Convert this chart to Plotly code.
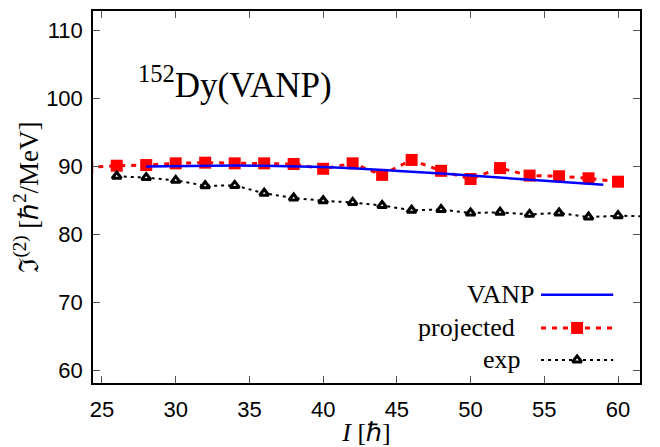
import plotly.graph_objects as go

# Spin values and moments of inertia
spin_proj = [24, 26, 28, 30, 32, 34, 36, 38, 40, 42, 44, 46, 48, 50, 52, 54, 56, 58, 60]
j2_proj = [89.9, 90.15, 90.25, 90.5, 90.6, 90.5, 90.5, 90.4, 89.7, 90.5, 88.8, 91.0,
           89.4, 88.2, 89.8, 88.7, 88.6, 88.3, 87.8]

spin_vanp = [28, 30, 32, 34, 36, 38, 40, 42, 44, 46, 48, 50, 52, 54, 56, 58, 59]
j2_vanp = [90.05, 90.12, 90.17, 90.18, 90.15, 90.08, 89.95, 89.78, 89.55, 89.3, 89.0,
           88.7, 88.4, 88.1, 87.8, 87.5, 87.35]

spin_exp = [26, 28, 30, 32, 34, 36, 38, 40, 42, 44, 46, 48, 50, 52, 54, 56, 58, 60, 62]
j2_exp = [88.6, 88.4, 88.0, 87.2, 87.25, 86.1, 85.4, 85.0, 84.75, 84.3, 83.6, 83.7,
          83.2, 83.3, 83.0, 83.2, 82.6, 82.8, 82.7]

x_ticks = [25, 30, 35, 40, 45, 50, 55, 60]
y_ticks = [60, 70, 80, 90, 100, 110]

SERIF = "Liberation Serif, Times New Roman, serif"
SANS = "Liberation Sans, Arial, Helvetica, sans-serif"

RED = "#ff0000"
BLUE = "#0000ff"
BLACK = "#000000"

proj_line = dict(color=RED, width=3, dash="5px,6px")
proj_marker = dict(symbol="square", size=12, color=RED)
vanp_line = dict(color=BLUE, width=2.5)
exp_line = dict(color=BLACK, width=2, dash="3px,4px")
exp_marker = dict(symbol="triangle-up", size=8, color="white",
                  line=dict(color=BLACK, width=3))

fig = go.Figure()

fig.add_trace(go.Scatter(x=spin_proj, y=j2_proj, mode="lines+markers",
                         line=proj_line, marker=proj_marker, showlegend=False))
fig.add_trace(go.Scatter(x=spin_vanp, y=j2_vanp, mode="lines",
                         line=vanp_line, showlegend=False))
fig.add_trace(go.Scatter(x=spin_exp, y=j2_exp, mode="lines+markers",
                         line=exp_line, marker=exp_marker, showlegend=False))

# Hand-drawn key: samples on an overlay axis spanning the plot area
key_rows = [
    ("VANP", 0.237, 0.809, vanp_line, None),
    ("projected", 0.148, 0.776, proj_line, proj_marker),
    ("exp", 0.062, 0.787, exp_line, exp_marker),
]
x0, x1, xm = 0.819, 0.951, 0.885
for label, yk, xr, ln, mk in key_rows:
    fig.add_trace(go.Scatter(x=[x0, x1], y=[yk, yk], mode="lines", line=ln,
                             xaxis="x2", yaxis="y2", showlegend=False, hoverinfo="skip"))
    if mk is not None:
        fig.add_trace(go.Scatter(x=[xm], y=[yk], mode="markers", marker=mk,
                                 xaxis="x2", yaxis="y2", showlegend=False, hoverinfo="skip"))
    fig.add_annotation(x=xr, y=yk, xref="paper", yref="paper", text=label,
                       showarrow=False, xanchor="right", yanchor="middle",
                       font=dict(family=SERIF, size=26, color=BLACK))

fig.add_annotation(x=0.078, y=0.809, xref="paper", yref="paper",
                   text="<sup>152</sup>Dy(VANP)", showarrow=False,
                   xanchor="left", yanchor="middle",
                   font=dict(family=SERIF, size=35, color=BLACK))

axis_common = dict(showline=True, linecolor=BLACK, linewidth=1.5, mirror="ticks",
                   ticks="inside", ticklen=7, tickwidth=1, tickcolor="#555555",
                   showgrid=False, zeroline=False, automargin=False,
                   tickfont=dict(family=SANS, size=22, color=BLACK))

fig.update_layout(
    width=660, height=447,
    margin=dict(l=93, r=20, t=11, b=64, autoexpand=False),
    paper_bgcolor="white", plot_bgcolor="white",
    xaxis=dict(range=[24.39, 61.49], tickvals=x_ticks, ticklabelstandoff=6,
               title=dict(text="<i>I</i> [ℏ]", font=dict(family=SERIF, size=26, color=BLACK),
                          standoff=0),
               **axis_common),
    yaxis=dict(range=[58.2, 112.9], tickvals=y_ticks, ticklabelstandoff=4,
               title=dict(text="ℑ<sup>(2)</sup> [ℏ<sup>2</sup>/MeV]",
                          font=dict(family=SERIF, size=27, color=BLACK), standoff=0),
               **axis_common),
    xaxis2=dict(range=[0, 1], overlaying="x", visible=False, fixedrange=True),
    yaxis2=dict(range=[0, 1], overlaying="y", visible=False, fixedrange=True),
)

fig.write_html("out.html")
